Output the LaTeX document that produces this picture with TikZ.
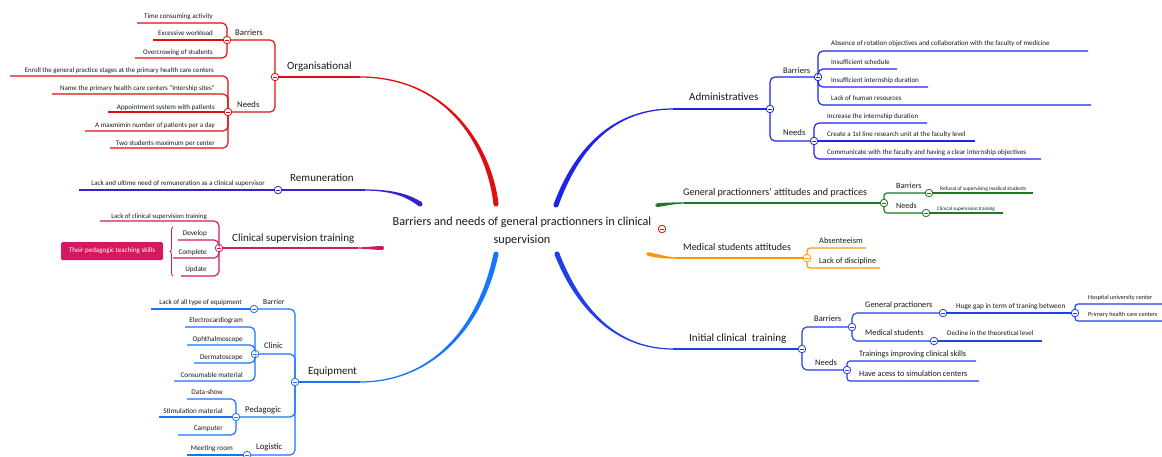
\documentclass[tikz,border=0pt]{standalone}
\usepackage{fontspec}
\setmainfont{Carlito}
\usetikzlibrary{decorations.pathreplacing,calc}
\definecolor{cRed}{RGB}{222,15,15}
\definecolor{cRem}{RGB}{48,36,204}
\definecolor{cCS}{RGB}{214,24,96}
\definecolor{cEq}{RGB}{22,116,255}
\definecolor{cAd}{RGB}{30,36,236}
\definecolor{cGr}{RGB}{30,120,40}
\definecolor{cOr}{RGB}{255,150,10}
\definecolor{cIc}{RGB}{32,64,232}
\definecolor{cTxt}{RGB}{25,25,25}
\begin{document}
\begin{tikzpicture}[x=1pt,y=-1pt,
  txt/.style={inner sep=0pt, font=\fontsize{#1}{#1}\selectfont, text=cTxt},
  ln/.style={draw=#1, line width=1.15pt, rounded corners=5pt},
  sl/.style={draw=#1, line width=1.15pt},
  tog/.style={circle, draw=#1, fill=white, line width=0.8pt, minimum size=7.5pt, inner sep=0pt,
    path picture={\draw[#1, line width=0.7pt] ([xshift=-2.2pt]path picture bounding box.center) -- ([xshift=2.2pt]path picture bounding box.center);}}]
\fill[white] (0,0) rectangle (1162,456);
\useasboundingbox (0,0) rectangle (1162,456);

% ---------- root ----------
\node[inner sep=0pt, text=cTxt, font=\fontsize{12.2}{18}\selectfont, align=center] (root) at (522,231) {Barriers and needs of general practionners in clinical\\supervision};
\node[tog=cRed] (rootTog) at (662,229) {};

% ---------- Organisational ----------
\node[tog=cRed] (O) at (275,77) {};
\node[txt=11, anchor=mid west] (Ol) at (287,67) {Organisational};
\node[tog=cRed] (RB) at (227,40) {};
\node[txt=8.7, anchor=mid west] (RBl) at (235,33) {Barriers};
\node[txt=7, anchor=mid east] (r1) at (213,16) {Time consuming activity};
\node[txt=7, anchor=mid east] (r2) at (213,33) {Excessive workload};
\node[txt=7, anchor=mid east] (r3) at (213,52) {Overcrowing of students};
\node[tog=cRed] (RN) at (228,112) {};
\node[txt=8.7, anchor=mid west] (RNl) at (237,105) {Needs};
\node[txt=6.9, anchor=mid east] (r4) at (214,70) {Enroll the general practice stages at the primary health care centers};
\node[txt=7, anchor=mid east] (r5) at (215,88) {Name the primary health care centers "Intership sites"};
\node[txt=7, anchor=mid east] (r6) at (215,107) {Appointment system with patients};
\node[txt=7, anchor=mid east] (r7) at (215,125) {A maxmimin number of patients per a day};
\node[txt=7, anchor=mid east] (r8) at (215,143) {Two students maximum per center};
\coordinate (r1e) at (137,23);
\coordinate (r2e) at (153,40);
\coordinate (r3e) at (135,58);
\coordinate (r4e) at (10,76);
\coordinate (r5e) at (52,94);
\coordinate (r6e) at (108,112);
\coordinate (r7e) at (85,131);
\coordinate (r8e) at (110,148);
\coordinate (oT) at (360,77);
\draw[sl=cRed] (O) -- ($(O)!.5!(oT)$) -- (oT);
\draw[ln=cRed] (O) |- (RB);
\draw[ln=cRed] (O) |- (RN);
\draw[ln=cRed] (RB) |- (r1e);
\draw[sl=cRed] (RB) -- ($(RB)!.5!(r2e)$) -- (r2e);
\draw[ln=cRed] (RB) |- (r3e);
\draw[ln=cRed] (RN) |- (r4e);
\draw[ln=cRed] (RN) |- (r5e);
\draw[sl=cRed] (RN) -- ($(RN)!.5!(r6e)$) -- (r6e);
\draw[ln=cRed] (RN) |- (r7e);
\draw[ln=cRed] (RN) |- (r8e);
\fill[cRed] (360,76.4) .. controls (450,76.2) and (492.5,149.7) .. (498.5,203.7) -- (493.5,204.3) .. controls (487.5,150.3) and (450,77.8) .. (360,77.6) -- cycle;
\fill[cRed] (496,204) circle (2.5);

% ---------- Remuneration ----------
\node[tog=cRem] (RM) at (278,190) {};
\node[txt=11, anchor=mid west] (RMl) at (290,179) {Remuneration};
\node[txt=7, anchor=mid east] (m1) at (265,183) {Lack and ultime need of remuneration as a clinical supervisor};
\coordinate (m1e) at (79,190);
\coordinate (rmT) at (365,190);
\draw[sl=cRem] (RM) -- ($(RM)!.5!(rmT)$) -- (rmT);
\draw[sl=cRem] (RM) -- ($(RM)!.5!(m1e)$) -- (m1e);
\fill[cRem] (365,189.4) .. controls (395,189.3) and (411.4,195.5) .. (421.4,202) -- (418.6,206) .. controls (408.6,198.5) and (395,190.7) .. (365,190.6) -- cycle;
\fill[cRem] (420,204) circle (2.5);

% ---------- Clinical supervision training ----------
\node[tog=cCS] (CS) at (219,248) {};
\node[txt=11, anchor=mid west] (CSl) at (232,239) {Clinical supervision training};
\node[txt=6.8, anchor=mid east] (c1) at (207,216) {Lack of clinical supervision training};
\node[txt=7.2, anchor=mid east] (c2) at (207,233) {Develop};
\node[txt=7.2, anchor=mid east] (c3) at (207,252) {Complete};
\node[txt=7.2, anchor=mid east] (c4) at (207,269) {Update};
\coordinate (c1e) at (100,221);
\coordinate (c2e) at (178,240);
\coordinate (c3e) at (173,258);
\coordinate (c4e) at (181,276);
\coordinate (csT) at (358,248);
\draw[sl=cCS] (CS) -- ($(CS)!.5!(csT)$) -- (csT);
\draw[ln=cCS] (CS) |- (c1e);
\draw[ln=cCS] (CS) |- (c2e);
\draw[ln=cCS] (CS) |- (c3e);
\draw[ln=cCS] (CS) |- (c4e);
\fill[cCS] (355,247.4) .. controls (368,247.4) and (374,246) .. (382,246) -- (382,250) .. controls (374,250) and (368,248.6) .. (355,248.6) -- cycle;
\fill[cCS] (382,248) circle (2);
\node[txt=7, text=white, fill=cCS, minimum width=102pt, minimum height=18pt, rounded corners=1.5pt] (bx) at (112,251) {Their pedagogic teaching skills};
\coordinate (brB) at (173,276);
\coordinate (brT) at (173,227);
\draw[cCS, line width=0.8pt, decorate, decoration={brace, amplitude=3pt}] (brB) -- (brT);

% ---------- Equipment ----------
\node[tog=cEq] (EQ) at (295,382) {};
\node[txt=11, anchor=mid west] (EQl) at (308,372) {Equipment};
\node[tog=cEq] (EB) at (254,309) {};
\node[txt=7.6, anchor=mid west] (EBl) at (263,302) {Barrier};
\node[txt=7, anchor=mid east] (e1) at (242,302) {Lack of all type of equipment};
\node[tog=cEq] (EC) at (255,354) {};
\node[txt=8.5, anchor=mid west] (ECl) at (264,346) {Clinic};
\node[txt=7.2, anchor=mid east] (e2) at (243,320) {Electrocardiogram};
\node[txt=7.2, anchor=mid east] (e3) at (243,339) {Ophthalmoscope};
\node[txt=7.2, anchor=mid east] (e4) at (243,357) {Dermatoscope};
\node[txt=7.2, anchor=mid east] (e5) at (243,375) {Consumable material};
\node[tog=cEq] (EP) at (236,417) {};
\node[txt=8.7, anchor=mid west] (EPl) at (245,410) {Pedagogic};
\node[txt=7.2, anchor=mid east] (e6) at (223,392) {Data-show};
\node[txt=7.2, anchor=mid east] (e7) at (223,411) {Stimulation material};
\node[txt=7.2, anchor=mid east] (e8) at (223,428) {Camputer};
\node[tog=cEq] (EL) at (247,455) {};
\node[txt=8.7, anchor=mid west] (ELl) at (256,447) {Logistic};
\node[txt=7.2, anchor=mid east] (e9) at (233,448) {Meeting room};
\coordinate (e1e) at (151,309);
\coordinate (e2e) at (185,327);
\coordinate (e3e) at (187,345);
\coordinate (e4e) at (194,363);
\coordinate (e5e) at (174,381);
\coordinate (e6e) at (187,399);
\coordinate (e7e) at (159,417);
\coordinate (e8e) at (178,435);
\coordinate (e9e) at (187,455);
\coordinate (eqT) at (360,382);
\draw[sl=cEq] (EQ) -- ($(EQ)!.5!(eqT)$) -- (eqT);
\draw[ln=cEq] (EQ) |- (EB);
\draw[ln=cEq] (EQ) |- (EC);
\draw[ln=cEq] (EQ) |- (EP);
\draw[ln=cEq] (EQ) |- (EL);
\draw[sl=cEq] (EB) -- ($(EB)!.5!(e1e)$) -- (e1e);
\draw[ln=cEq] (EC) |- (e2e);
\draw[ln=cEq] (EC) |- (e3e);
\draw[ln=cEq] (EC) |- (e4e);
\draw[ln=cEq] (EC) |- (e5e);
\draw[ln=cEq] (EP) |- (e6e);
\draw[sl=cEq] (EP) -- ($(EP)!.5!(e7e)$) -- (e7e);
\draw[ln=cEq] (EP) |- (e8e);
\draw[sl=cEq] (EL) -- ($(EL)!.5!(e9e)$) -- (e9e);
\fill[cEq] (360,381.4) .. controls (430,381.3) and (477.6,329.5) .. (493.55,253.5) -- (498.45,254.5) .. controls (482.4,330.5) and (430,382.7) .. (360,382.6) -- cycle;
\fill[cEq] (496,254) circle (2.5);

% ---------- Administratives ----------
\node[tog=cAd] (AD) at (770,109) {};
\node[txt=11, anchor=mid west] (ADl) at (689,98) {Administratives};
\node[tog=cAd] (AB) at (818,77) {};
\node[txt=8.5, anchor=mid west] (ABl) at (783,71) {Barriers};
\node[txt=7, anchor=mid west] (a1) at (831,43) {Absence of rotation objectives and collaboration with the faculty of medicine};
\node[txt=7, anchor=mid west] (a2) at (831,62) {Insufficient schedule};
\node[txt=7, anchor=mid west] (a3) at (831,80) {Insufficient internship duration};
\node[txt=7, anchor=mid west] (a4) at (831,98) {Lack of human resources};
\node[tog=cAd] (AN) at (814,141) {};
\node[txt=8.7, anchor=mid west] (ANl) at (783,133) {Needs};
\node[txt=7, anchor=mid west] (a5) at (827,116) {Increase the internship duration};
\node[txt=7, anchor=mid west] (a6) at (827,134) {Create a 1st line research unit at the faculty level};
\node[txt=7, anchor=mid west] (a7) at (827,152) {Communicate with the faculty and having a clear internship objectives};
\coordinate (a1e) at (1088,51);
\coordinate (a2e) at (897,69);
\coordinate (a3e) at (928,87);
\coordinate (a4e) at (1091,105);
\coordinate (a5e) at (927,123);
\coordinate (a6e) at (975,141);
\coordinate (a7e) at (1041,159);
\coordinate (adT) at (673,109);
\draw[sl=cAd] (adT) -- ($(adT)!.5!(AD)$) -- (AD);
\draw[ln=cAd] (AD) |- (AB);
\draw[ln=cAd] (AD) |- (AN);
\draw[ln=cAd] (AB) |- (a1e);
\draw[ln=cAd] (AB) |- (a2e);
\draw[ln=cAd] (AB) |- (a3e);
\draw[ln=cAd] (AB) |- (a4e);
\draw[ln=cAd] (AN) |- (a5e);
\draw[sl=cAd] (AN) -- ($(AN)!.5!(a6e)$) -- (a6e);
\draw[ln=cAd] (AN) |- (a7e);
\fill[cAd] (673,108.4) .. controls (620,108.3) and (578,139.3) .. (553.65,204.13) -- (558.35,205.87) .. controls (582,140.7) and (620,109.7) .. (673,109.6) -- cycle;
\fill[cAd] (556,205) circle (2.5);

% ---------- General practionners' attitudes ----------
\node[tog=cGr] (GP) at (884,203) {};
\node[txt=10.1, anchor=mid west] (GPl) at (683,193) {General practionners' attitudes and practices};
\node[tog=cGr] (GB) at (929,193) {};
\node[txt=8, anchor=mid west] (GBl) at (896,186) {Barriers};
\node[txt=5.4, anchor=mid west] (g1) at (940,188) {Refusal of supervising medical students};
\node[tog=cGr] (GN) at (926,213) {};
\node[txt=8, anchor=mid west] (GNl) at (896,206) {Needs};
\node[txt=5.2, anchor=mid west] (g2) at (937,208) {Clinical supervision training};
\coordinate (g1e) at (1033,193);
\coordinate (g2e) at (1003,213);
\coordinate (gpT) at (684,203);
\draw[sl=cGr] (gpT) -- ($(gpT)!.5!(GP)$) -- (GP);
\draw[ln=cGr, rounded corners=3pt] (GP) |- (GB);
\draw[ln=cGr, rounded corners=3pt] (GP) |- (GN);
\draw[sl=cGr] (GB) -- ($(GB)!.5!(g1e)$) -- (g1e);
\draw[sl=cGr] (GN) -- ($(GN)!.5!(g2e)$) -- (g2e);
\fill[cGr] (657,203.3) .. controls (665,202.5) and (672,202.4) .. (686,202.4) -- (686,203.6) .. controls (672,203.7) and (665,206.2) .. (657,207.1) -- cycle;
\fill[cGr] (657,205.2) circle (1.9);

% ---------- Medical students attitudes ----------
\node[tog=cOr] (MS) at (807,258) {};
\node[txt=10, anchor=mid west] (MSl) at (683,248) {Medical students attitudes};
\node[txt=8.3, anchor=mid west] (s1) at (819,241) {Absenteeism};
\node[txt=8.3, anchor=mid west] (s2) at (819,261) {Lack of discipline};
\coordinate (s1e) at (866,248);
\coordinate (s2e) at (880,268);
\coordinate (msT) at (676,258);
\draw[sl=cOr] (msT) -- ($(msT)!.5!(MS)$) -- (MS);
\draw[ln=cOr, rounded corners=3pt] (MS) |- (s1e);
\draw[ln=cOr, rounded corners=3pt] (MS) |- (s2e);
\fill[cOr] (648,252.2) .. controls (658,253.8) and (666,257.1) .. (678,257.4) -- (678,258.6) .. controls (665,258.9) and (656,257.7) .. (648,255.8) -- cycle;
\fill[cOr] (648,254) circle (1.8);

% ---------- Initial clinical training ----------
\node[tog=cIc] (IC) at (802,349) {};
\node[txt=11, anchor=mid west] (ICl) at (689,339) {Initial clinical\ \ training};
\node[tog=cIc] (IB) at (852,327) {};
\node[txt=8.5, anchor=mid west] (IBl) at (814,319) {Barriers};
\node[tog=cIc] (IG) at (943,313) {};
\node[txt=8.4, anchor=mid west] (IGl) at (865,305) {General practioners};
\node[txt=7.3, anchor=mid west] (i1) at (956,306) {Huge gap in term of traning between};
\node[tog=cIc] (IH) at (1075,313) {};
\node[txt=6.2, anchor=mid west] (i2) at (1088,297) {Hospital university center};
\node[txt=6.2, anchor=mid west] (i3) at (1088,314) {Primary health care centers};
\node[tog=cIc] (IM) at (934,341) {};
\node[txt=8.4, anchor=mid west] (IMl) at (865,333) {Medical students};
\node[txt=7, anchor=mid west] (i4) at (947,333) {Decline in the theoretical level};
\node[tog=cIc] (IN) at (847,370) {};
\node[txt=8.5, anchor=mid west] (INl) at (815,363) {Needs};
\node[txt=8.2, anchor=mid west] (i5) at (859,354) {Trainings improving clinical skills};
\node[txt=8.2, anchor=mid west] (i6) at (859,374) {Have acess to simulation centers};
\coordinate (i2e) at (1162,304);
\coordinate (i3e) at (1162,321);
\coordinate (i4e) at (1042,341);
\coordinate (i5e) at (976,361);
\coordinate (i6e) at (979,381);
\coordinate (icT) at (673,349);
\draw[sl=cIc] (icT) -- ($(icT)!.5!(IC)$) -- (IC);
\draw[ln=cIc] (IC) |- (IB);
\draw[ln=cIc] (IC) |- (IN);
\draw[ln=cIc] (IB) |- (IG);
\draw[ln=cIc] (IB) |- (IM);
\draw[sl=cIc] (IG) -- ($(IG)!.5!(IH)$) -- (IH);
\draw[ln=cIc, rounded corners=3pt] (IH) |- (i2e);
\draw[ln=cIc, rounded corners=3pt] (IH) |- (i3e);
\draw[sl=cIc] (IM) -- ($(IM)!.5!(i4e)$) -- (i4e);
\draw[ln=cIc, rounded corners=3pt] (IN) |- (i5e);
\draw[ln=cIc, rounded corners=3pt] (IN) |- (i6e);
\fill[cIc] (673,348.4) .. controls (610,348.3) and (577.3,299.1) .. (559.3,253.1) -- (554.7,254.9) .. controls (572.7,300.9) and (610,349.7) .. (673,349.6) -- cycle;
\fill[cIc] (557,254) circle (2.5);
\end{tikzpicture}
\end{document}
